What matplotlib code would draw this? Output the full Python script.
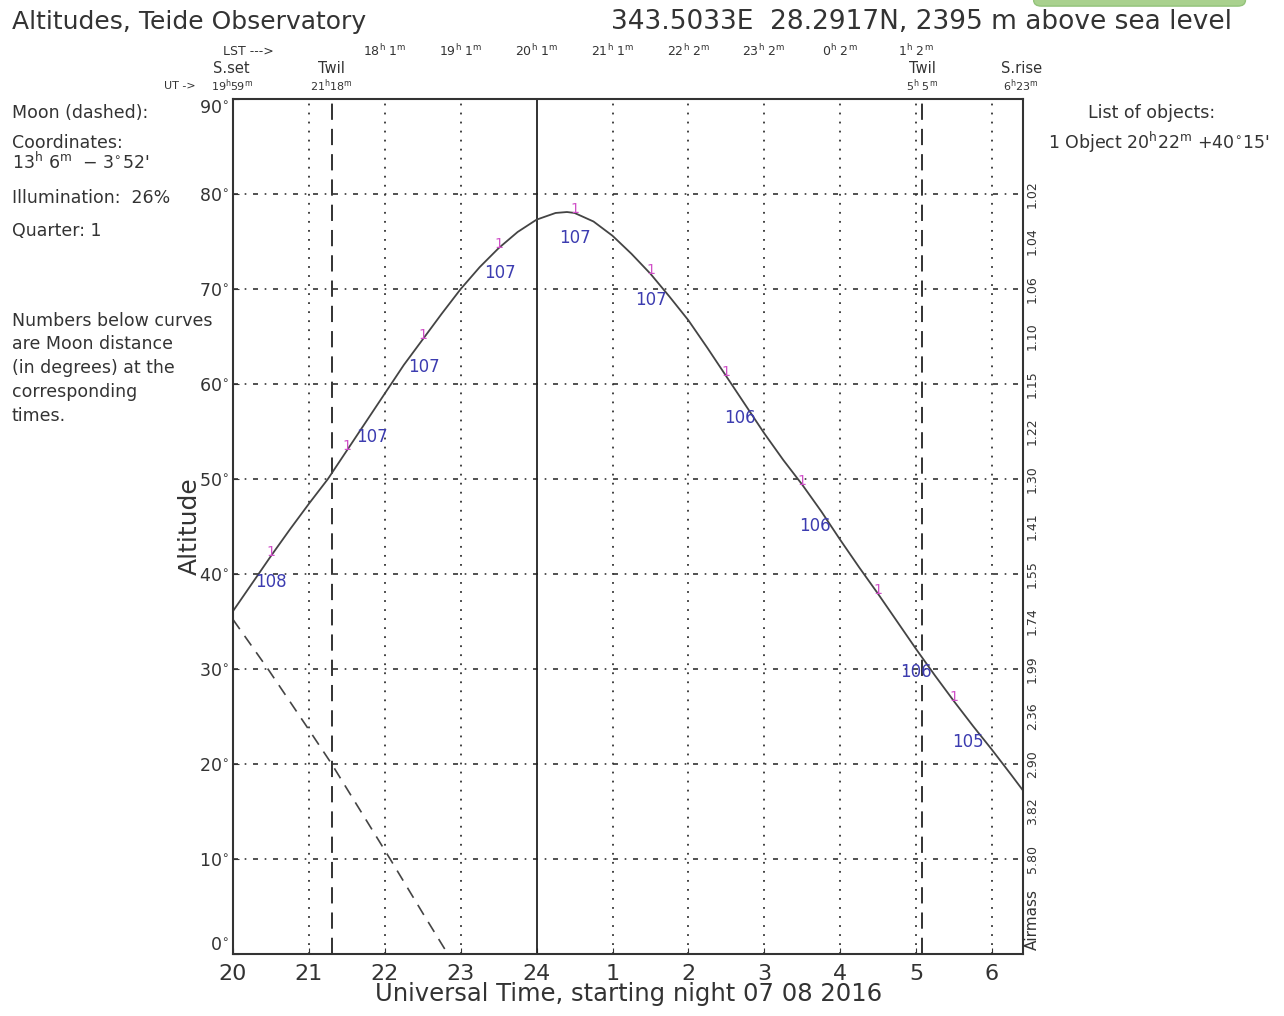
import numpy as np
import matplotlib
matplotlib.use("Agg")
import matplotlib.pyplot as plt
from matplotlib.patches import FancyBboxPatch

plt.rcParams['font.family'] = ['DejaVu Sans']
plt.rcParams['mathtext.fontset'] = 'dejavusans'

# object altitude vs UT (hours after 20h, continuing past 24)
obj_t = [20.0, 20.25, 20.5, 20.75, 21.0, 21.25, 21.5, 21.75, 22.0, 22.25, 22.5, 22.75,
         23.0, 23.25, 23.5, 23.75, 24.0, 24.25, 24.4, 24.5, 24.75, 25.0, 25.25, 25.5,
         25.75, 26.0, 26.25, 26.5, 26.75, 27.0, 27.25, 27.5, 27.75, 28.0, 28.25, 28.5,
         28.75, 29.0, 29.25, 29.5, 29.75, 30.0, 30.25, 30.41]
obj_alt = [36.1, 39.0, 41.9, 44.7, 47.4, 50.0, 53.0, 56.0, 59.0, 62.0, 64.7, 67.4,
           70.0, 72.3, 74.3, 76.0, 77.3, 78.0, 78.1, 78.0, 77.1, 75.6, 73.7, 71.6,
           69.2, 66.7, 63.8, 60.8, 57.8, 54.8, 52.0, 49.4, 46.6, 43.6, 40.7, 37.9,
           35.0, 32.1, 29.3, 26.6, 24.0, 21.5, 18.9, 17.2]

# moon altitude (dashed)
moon_t = [20.0, 20.46, 21.0, 21.3, 21.5, 22.07, 22.5, 22.83]
moon_alt = [35.2, 30.0, 23.6, 20.0, 17.4, 10.0, 4.3, 0.0]

# magenta object id marks (half hours) and blue moon-distance labels
id_t = [20.5, 21.5, 22.5, 23.5, 24.5, 25.5, 26.5, 27.5, 28.5, 29.5]
dist_t = [20.5, 21.83, 22.52, 23.52, 24.5, 25.51, 26.68, 27.67, 29.0, 29.68]
dist_alt = [39.2, 54.4, 61.8, 71.7, 75.4, 68.8, 56.4, 45.1, 29.7, 22.3]
dist_txt = ['108', '107', '107', '107', '107', '107', '106', '106', '106', '105']

hour_ticks = list(range(20, 31))
hour_labels = ['20', '21', '22', '23', '24', '1', '2', '3', '4', '5', '6']
lst_labels = ['18$^{\\rm h}$ 1$^{\\rm m}$', '19$^{\\rm h}$ 1$^{\\rm m}$', '20$^{\\rm h}$ 1$^{\\rm m}$',
              '21$^{\\rm h}$ 1$^{\\rm m}$', '22$^{\\rm h}$ 2$^{\\rm m}$', '23$^{\\rm h}$ 2$^{\\rm m}$',
              '0$^{\\rm h}$ 2$^{\\rm m}$', '1$^{\\rm h}$ 2$^{\\rm m}$']
lst_t = [22, 23, 24, 25, 26, 27, 28, 29]

airmass_alt = [80, 75, 70, 65, 60, 55, 50, 45, 40, 35, 30, 25, 20, 15, 10]
airmass_txt = ['1.02', '1.04', '1.06', '1.10', '1.15', '1.22', '1.30', '1.41', '1.55',
               '1.74', '1.99', '2.36', '2.90', '3.82', '5.80']

sunset = 19 + 59 / 60
twil_eve = 21 + 18 / 60
twil_morn = 29 + 5 / 60
sunrise = 30 + 23 / 60

ink = '#333333'
fig = plt.figure(figsize=(12.84, 10.16), dpi=100)
ax = fig.add_axes([0.1815, 0.061, 0.6153, 0.8416])
ax.set_xlim(20, 30.41)
ax.set_ylim(0, 90)

# grid
for t in hour_ticks[1:]:
    if t != 24:
        ax.axvline(t, color=ink, lw=1.3, ls=(0, (1, 4)))
for a in range(10, 90, 10):
    ax.axhline(a, color=ink, lw=1.2, ls=(0, (3, 4, 1, 4)))
ax.axvline(24, color='#222222', lw=1.3)
for t in [twil_eve, twil_morn]:
    ax.axvline(t, color='#222222', lw=1.3, ls=(0, (9, 5)))

ax.plot(obj_t, obj_alt, color='#444444', lw=1.3)
ax.plot(moon_t, moon_alt, color='#444444', lw=1.2, ls=(0, (7, 5)))

for t in id_t:
    ax.annotate('1', (t, np.interp(t, obj_t, obj_alt)), xytext=(0, 3), textcoords='offset points',
                ha='center', va='center', color='#d050c8', fontsize=10)
for t, a, s in zip(dist_t, dist_alt, dist_txt):
    ax.text(t, a, s, ha='center', va='center', color='#3c3cb0', fontsize=12)

ax.set_xticks(hour_ticks)
ax.set_xticklabels(hour_labels, fontsize=16, color=ink)
ax.set_yticks(range(0, 91, 10))
ax.set_yticklabels([f'{a}$^{{\\circ}}$' for a in range(0, 91, 10)], fontsize=12.5, color=ink)
ax.get_yticklabels()[-1].set_va('top')
ax.get_yticklabels()[0].set_va('bottom')
ax.tick_params(axis='both', direction='in', length=4, color=ink, pad=3)
ax.tick_params(axis='x', pad=7)
for s in ax.spines.values():
    s.set_color(ink)
    s.set_linewidth(1.5)
ax.set_xlabel('Universal Time, starting night 07 08 2016', fontsize=17.5, color=ink, labelpad=-1)
ax.set_ylabel('Altitude', fontsize=18, color=ink, labelpad=-2)

# airmass scale
for a, s in zip(airmass_alt, airmass_txt):
    ax.text(1.012, a / 90, s, transform=ax.transAxes, rotation=90, ha='center', va='center',
            fontsize=9, color=ink)
ax.text(1.012, 0.04, 'Airmass', transform=ax.transAxes, rotation=90, ha='center', va='center',
        fontsize=11, color=ink)

# top annotations
tr = ax.get_xaxis_transform()
ax.text(20.2, 1.056, 'LST --->', transform=tr, ha='center', va='center', fontsize=9, color=ink)
for t, s in zip(lst_t, lst_labels):
    ax.text(t, 1.056, s, transform=tr, ha='center', va='center', fontsize=9, color=ink)
for t, top, bot in [(sunset, 'S.set', '19$^{\\rm h}$59$^{\\rm m}$'),
                    (twil_eve, 'Twil', '21$^{\\rm h}$18$^{\\rm m}$'),
                    (twil_morn, 'Twil', '5$^{\\rm h}$ 5$^{\\rm m}$'),
                    (sunrise, 'S.rise', '6$^{\\rm h}$23$^{\\rm m}$')]:
    ax.text(t, 1.036, top, transform=tr, ha='center', va='center', fontsize=10.5, color=ink)
    ax.text(t, 1.015, bot, transform=tr, ha='center', va='center', fontsize=8, color=ink)
ax.text(19.3, 1.015, 'UT ->', transform=tr, ha='center', va='center', fontsize=8, color=ink)

fig.text(0.009, 0.978, 'Altitudes, Teide Observatory', fontsize=18, color=ink, va='center')
fig.text(0.476, 0.978, '343.5033E  28.2917N, 2395 m above sea level', fontsize=19, color=ink,
         va='center')

left = [(0.889, 'Moon (dashed):'), (0.859, 'Coordinates:'),
        (0.840, '13$^{\\rm h}$ 6$^{\\rm m}$  \u2212 3$^{\\circ}$52\''),
        (0.805, 'Illumination:  26%'), (0.773, 'Quarter: 1'),
        (0.684, 'Numbers below curves'), (0.661, 'are Moon distance'),
        (0.638, '(in degrees) at the'), (0.614, 'corresponding'), (0.591, 'times.')]
for y, s in left:
    fig.text(0.009, y, s, fontsize=12.5, color=ink, va='center')

fig.text(0.847, 0.889, 'List of objects:', fontsize=12.5, color=ink, va='center')
fig.text(0.816, 0.860, '1 Object 20$^{\\rm h}$22$^{\\rm m}$ +40$^{\\circ}$15\'', fontsize=12.5,
         color=ink, va='center')

fig.patches.append(FancyBboxPatch((0.805, 0.994), 0.165, 0.02, transform=fig.transFigure,
                                  boxstyle='round,pad=0,rounding_size=0.006',
                                  facecolor='#a9d18e', edgecolor='#93c37a', lw=1))

fig.savefig('out.png', dpi=100)
